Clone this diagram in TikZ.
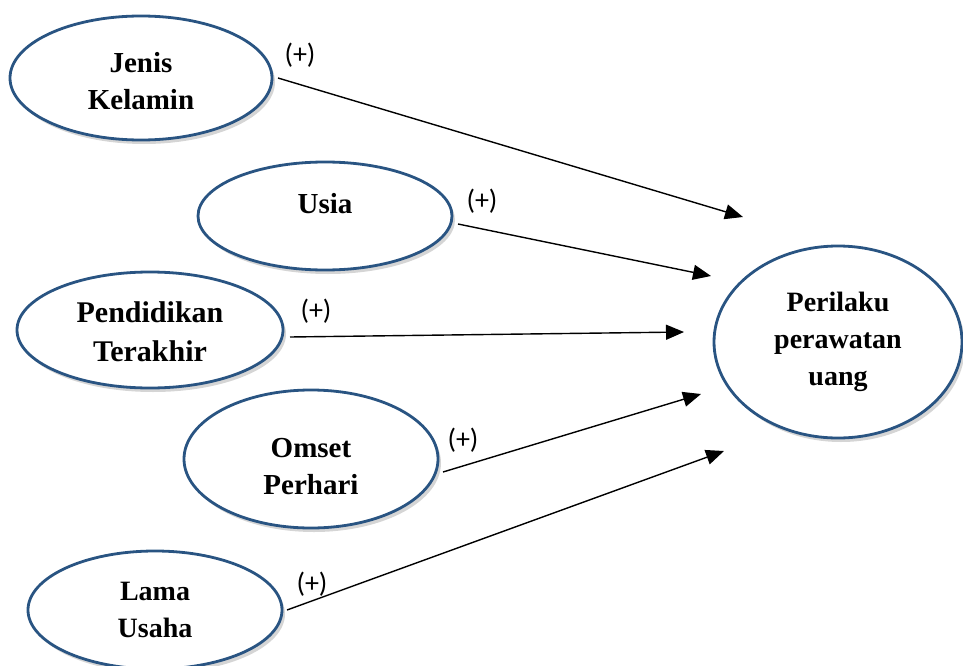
\documentclass[tikz,border=0pt]{standalone}
\usepackage{fontspec}
\setmainfont{Liberation Serif}
\newfontfamily\lblfont{Carlito}
\usetikzlibrary{arrows.meta,shapes.geometric,shadows}
\definecolor{ellblue}{RGB}{41,84,130}
\begin{document}
\begin{tikzpicture}[x=1pt,y=-1pt,
  var/.style={ellipse,draw=ellblue,line width=2.8pt,fill=white,
    inner sep=0pt,outer sep=0pt,
    drop shadow={shadow xshift=3pt,shadow yshift=-4pt,opacity=0.3,fill=black!55},
    font=\fontsize{29}{37}\selectfont\bfseries,align=center},
  conn/.style={line width=1.4pt,-{Triangle[length=18pt,width=15pt]}},
  plus/.style={font=\lblfont\fontsize{28}{30}\selectfont,inner sep=0pt}]
\useasboundingbox (0,0) rectangle (963,666);
\node[var,minimum width=262pt,minimum height=124pt] (jk) at (141,78) {\rule{0pt}{26pt}Jenis\\Kelamin};
\node[var,minimum width=254pt,minimum height=108pt] (us) at (325,216) {\rule[-26pt]{0pt}{26pt}Usia};
\node[var,minimum width=266pt,minimum height=116pt,font=\fontsize{30}{39}\selectfont\bfseries] (pt) at (150,330) {\rule{0pt}{25pt}Pendidikan\\Terakhir};
\node[var,minimum width=254pt,minimum height=138pt] (op) at (311,459) {\rule{0pt}{34pt}Omset\\Perhari};
\node[var,minimum width=254pt,minimum height=118pt,font=\fontsize{28}{37}\selectfont\bfseries] (lu) at (155,610) {Lama\\Usaha};
\node[var,minimum width=248pt,minimum height=192pt,font=\fontsize{28}{37}\selectfont\bfseries] (pu) at (838,342) {Perilaku\\perawatan\\uang};
\coordinate (s1) at (278,78);  \coordinate (e1) at (743,217);
\coordinate (s2) at (458,224); \coordinate (e2) at (711,276);
\coordinate (s3) at (290,337); \coordinate (e3) at (684,332);
\coordinate (s4) at (443,472); \coordinate (e4) at (701,394);
\coordinate (s5) at (287,610); \coordinate (e5) at (724,451);
\draw[conn] (s1) -- (e1);
\draw[conn] (s2) -- (e2);
\draw[conn] (s3) -- (e3);
\draw[conn] (s4) -- (e4);
\draw[conn] (s5) -- (e5);
\node[plus] (p1) at (300,55) {(+)};
\node[plus] (p2) at (482,201) {(+)};
\node[plus] (p3) at (316,311) {(+)};
\node[plus] (p4) at (463,440) {(+)};
\node[plus] (p5) at (312,584) {(+)};
\end{tikzpicture}
\end{document}
